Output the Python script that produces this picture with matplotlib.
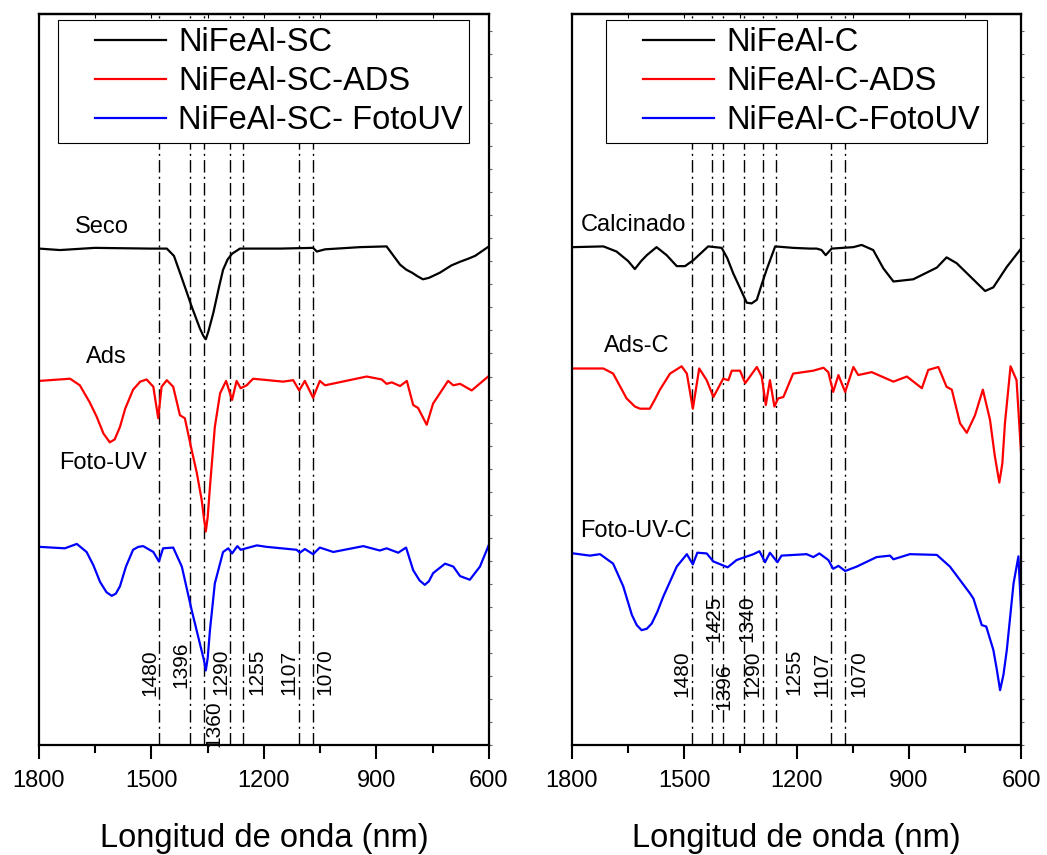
import numpy as np
import matplotlib
matplotlib.use("Agg")
import matplotlib.pyplot as plt
from matplotlib.ticker import MultipleLocator
from matplotlib.legend_handler import HandlerLine2D
from matplotlib.lines import Line2D

plt.rcParams['font.family'] = ['Liberation Sans', 'DejaVu Sans']

# ---- Datos (numero de onda, intensidad en u.a.) ----
# Panel izquierdo: sin calcinar
sc_x = [1799, 1744, 1651, 1504, 1459, 1440, 1424, 1405, 1393, 1371, 1362, 1355, 1348, 1335,
        1320, 1309, 1297, 1285, 1264, 1157, 1069, 1059, 1037, 944, 873, 850, 837, 820, 805,
        790, 776, 760, 731, 700, 677, 656, 637, 603]
sc_y = [67.9, 67.7, 68.0, 67.9, 67.9, 66.9, 64.6, 61.8, 60.0, 57.0, 56.0, 55.5, 56.6, 59.1,
        62.6, 65.0, 66.4, 67.2, 67.9, 67.9, 68.0, 67.5, 67.8, 68.1, 68.2, 66.6, 65.7, 65.0, 64.6,
        64.1, 63.7, 63.9, 64.6, 65.6, 66.1, 66.5, 66.9, 68.1]

sc_ads_x = [1799, 1717, 1691, 1665, 1646, 1628, 1611, 1598, 1584, 1570, 1549, 1530, 1513,
            1495, 1482, 1473, 1459, 1442, 1424, 1411, 1393, 1379, 1366, 1360, 1355, 1350,
            1344, 1331, 1317, 1301, 1285, 1273, 1262, 1246, 1229, 1149, 1122, 1106, 1091,
            1069, 1051, 1037, 926, 886, 873, 859, 837, 819, 802, 789, 766, 749, 709, 695,
            677, 646, 602]
sc_ads_y = [49.8, 50.1, 49.2, 46.9, 44.9, 42.6, 41.4, 41.8, 43.5, 46.0, 48.6, 49.7, 50.0,
            49.0, 44.7, 49.0, 49.9, 49.0, 45.1, 44.7, 40.4, 37.2, 33.5, 31.0, 29.2, 31.2,
            35.3, 43.5, 48.1, 49.8, 47.2, 49.8, 48.8, 49.2, 50.1, 49.7, 49.9, 48.5, 49.8,
            47.5, 49.8, 49.2, 50.4, 50.0, 49.4, 49.6, 49.1, 49.8, 46.5, 46.1, 43.8, 46.7,
            49.8, 49.2, 49.4, 48.5, 50.4]

sc_uv_x = [1799, 1731, 1699, 1673, 1655, 1637, 1620, 1606, 1595, 1584, 1568, 1549, 1535,
           1522, 1495, 1480, 1469, 1442, 1419, 1393, 1371, 1360, 1355, 1350, 1344, 1331,
           1309, 1295, 1285, 1271, 1262, 1219, 1193, 1113, 1104, 1091, 1069, 1051, 1015,
           935, 891, 873, 842, 821, 802, 785, 771, 760, 749, 717, 695, 677, 651, 624, 600]
sc_uv_y = [27.1, 26.9, 27.5, 26.4, 24.6, 22.3, 20.9, 20.4, 20.7, 21.7, 24.4, 26.7, 27.1,
           27.2, 26.4, 25.1, 26.9, 27.0, 24.4, 18.5, 13.9, 11.6, 10.2, 11.9, 15.7, 22.1,
           26.4, 26.9, 26.2, 27.2, 26.7, 27.3, 27.1, 26.7, 26.3, 26.8, 26.1, 27.0, 26.4,
           27.2, 26.6, 26.9, 26.3, 27.0, 23.9, 22.5, 21.9, 22.4, 23.5, 24.8, 24.4, 23.1,
           22.6, 24.4, 27.4]

# Panel derecho: calcinado
c_x = [1796, 1716, 1681, 1650, 1632, 1615, 1600, 1574, 1547, 1520, 1498, 1476, 1436, 1400,
       1385, 1369, 1350, 1333, 1320, 1306, 1293, 1280, 1257, 1209, 1164, 1146, 1133, 1122, 1106,
       1048, 1026, 995, 968, 941, 888, 825, 799, 772, 736, 696, 674, 638, 600]
c_y = [68.1, 68.2, 67.5, 66.2, 65.1, 66.2, 67.0, 68.1, 67.0, 65.5, 65.5, 66.3, 68.2, 68.0,
       66.6, 64.5, 62.4, 60.5, 60.4, 60.9, 63.0, 65.0, 68.2, 68.0, 67.9, 67.9, 67.7, 67.0, 67.9,
       68.1, 68.4, 67.7, 65.2, 63.4, 63.7, 65.3, 66.7, 65.9, 64.1, 62.1, 62.6, 65.4, 67.9]

c_ads_x = [1796, 1716, 1690, 1654, 1632, 1618, 1592, 1578, 1565, 1538, 1507, 1493, 1477, 1460,
           1440, 1422, 1396, 1382, 1373, 1351, 1337, 1306, 1293, 1282, 1271, 1259, 1249, 1235,
           1209, 1155, 1128, 1115, 1102, 1088, 1070, 1048, 1035, 999, 941, 905, 865, 848, 821,
           799, 785, 763, 745, 723, 702, 683, 670, 658, 650, 643, 628, 612, 600]
c_ads_y = [51.5, 51.5, 50.8, 47.4, 46.3, 46.0, 46.0, 47.3, 48.6, 50.8, 51.8, 50.8, 46.0, 51.5,
           49.9, 47.6, 50.1, 49.9, 51.2, 51.2, 49.5, 51.7, 50.4, 46.5, 49.9, 46.3, 47.4, 47.6,
           50.8, 51.2, 51.6, 51.0, 48.3, 50.6, 48.3, 51.7, 50.6, 51.0, 49.7, 50.4, 48.8, 51.3,
           51.7, 49.0, 48.6, 44.0, 42.7, 45.1, 48.6, 44.5, 39.5, 35.9, 38.5, 44.0, 51.8, 49.9,
           40.0]

c_uv_x = [1796, 1752, 1725, 1690, 1663, 1640, 1627, 1614, 1600, 1587, 1572, 1556, 1520, 1493,
          1477, 1465, 1440, 1422, 1384, 1360, 1315, 1299, 1284, 1271, 1251, 1240, 1173, 1155,
          1139, 1115, 1102, 1088, 1070, 1039, 986, 950, 941, 897, 825, 790, 736, 727, 705,
          693, 674, 665, 656, 647, 638, 620, 607, 600]
c_uv_y = [26.2, 25.9, 26.1, 24.8, 21.7, 17.8, 16.4, 15.7, 15.9, 16.6, 18.2, 20.3, 24.4, 26.1,
          24.7, 26.3, 26.2, 25.1, 24.3, 25.3, 26.1, 26.5, 25.0, 26.3, 25.0, 25.9, 26.1, 25.7,
          26.2, 25.3, 24.1, 24.5, 23.8, 24.4, 25.7, 25.9, 25.4, 26.1, 26.0, 24.4, 20.7, 20.0,
          16.4, 16.2, 13.0, 10.4, 7.5, 9.6, 13.0, 22.1, 25.8, 18.5]

# Bandas marcadas
sc_bands = [1480, 1396, 1360, 1290, 1255, 1107, 1070]
c_bands = [1480, 1425, 1396, 1340, 1290, 1255, 1107, 1070]

sc_labels = ['NiFeAl-SC', 'NiFeAl-SC-ADS', 'NiFeAl-SC- FotoUV']
c_labels = ['NiFeAl-C', 'NiFeAl-C-ADS', 'NiFeAl-C-FotoUV']
sc_names = ['Seco', 'Ads', 'Foto-UV']
c_names = ['Calcinado', 'Ads-C', 'Foto-UV-C']

colors = ['black', 'red', 'blue']

# estilo de las etiquetas de las bandas (alineacion, desplazamiento, altura)
sc_band_style = [('right', 0, 6.7), ('right', 0, 7.8), ('left', 0, -0.3), ('right', 0, 6.8),
                 ('left', -10, 6.8), ('right', 0, 6.8), ('left', -8, 6.8)]
c_band_style = [('right', 0, 6.6), ('center', -3, 14.1), ('center', -3, 4.8), ('center', -8, 14.1),
                ('right', 0, 6.6), ('left', -22, 6.8), ('right', 0, 6.6), ('left', -10, 6.6)]


def make_panel(ax, data, labels, names, name_pos, bands, band_style):
    for (x, y), lab, col in zip(data, labels, colors):
        ax.plot(x, y, color=col, lw=1.6, label=lab, solid_joinstyle='round')
    for b, (ha, dx, yy) in zip(bands, band_style):
        ax.axvline(b, color='black', lw=1.0, ls=(0, (9, 3, 1.5, 3)), zorder=1)
        ax.text(b + dx, yy, str(b), rotation=90, ha=ha, va='bottom', fontsize=15)
    for n, (px, py) in zip(names, name_pos):
        ax.text(px, py, n, ha='center', va='center', fontsize=17)

    ax.set_xlim(1800, 600)
    ax.set_ylim(0, 100)
    ax.xaxis.set_major_locator(MultipleLocator(300))
    ax.xaxis.set_minor_locator(MultipleLocator(150))
    ax.tick_params(axis='x', which='major', direction='out', length=10, width=1.5,
                   labelsize=17, pad=8)
    ax.tick_params(axis='x', which='minor', direction='out', length=6, width=1.5)
    ax.set_yticks([])
    ax.yaxis.set_minor_locator(MultipleLocator(3.15))
    ax.tick_params(axis='y', which='minor', left=False, right=True, direction='out',
                   length=2, width=0.8, color='0.4')
    top = ax.secondary_xaxis('top')
    top.xaxis.set_major_locator(MultipleLocator(150))
    top.tick_params(direction='in', length=3, width=0.8, labeltop=False)
    for s in ax.spines.values():
        s.set_linewidth(1.6)
    top.spines['top'].set_linewidth(1.6)
    ax.set_xlabel('Longitud de onda (nm)', fontsize=23.5, labelpad=22)

    leg = ax.legend(loc='upper center', fontsize=23.5, handlelength=3.1, handletextpad=0.37,
                    labelspacing=0.25, borderaxespad=0.2, borderpad=0.2, fancybox=False,
                    framealpha=1, edgecolor='black',
                    handler_map={Line2D: HandlerLine2D(xpad=0.92)})
    leg.get_frame().set_linewidth(0.8)
    leg.set_zorder(5)


fig = plt.figure(figsize=(10.47, 8.55), dpi=100)
ax1 = fig.add_axes([0.0372, 0.1287, 0.4298, 0.855])
ax2 = fig.add_axes([0.5463, 0.1287, 0.4289, 0.855])

make_panel(ax1, [(sc_x, sc_y), (sc_ads_x, sc_ads_y), (sc_uv_x, sc_uv_y)], sc_labels, sc_names,
           [(1632, 70.9), (1619, 53.1), (1629, 38.6)], sc_bands, sc_band_style)
make_panel(ax2, [(c_x, c_y), (c_ads_x, c_ads_y), (c_uv_x, c_uv_y)], c_labels, c_names,
           [(1637, 71.1), (1626, 54.6), (1629, 29.3)], c_bands, c_band_style)

fig.savefig('out.png', dpi=100)
